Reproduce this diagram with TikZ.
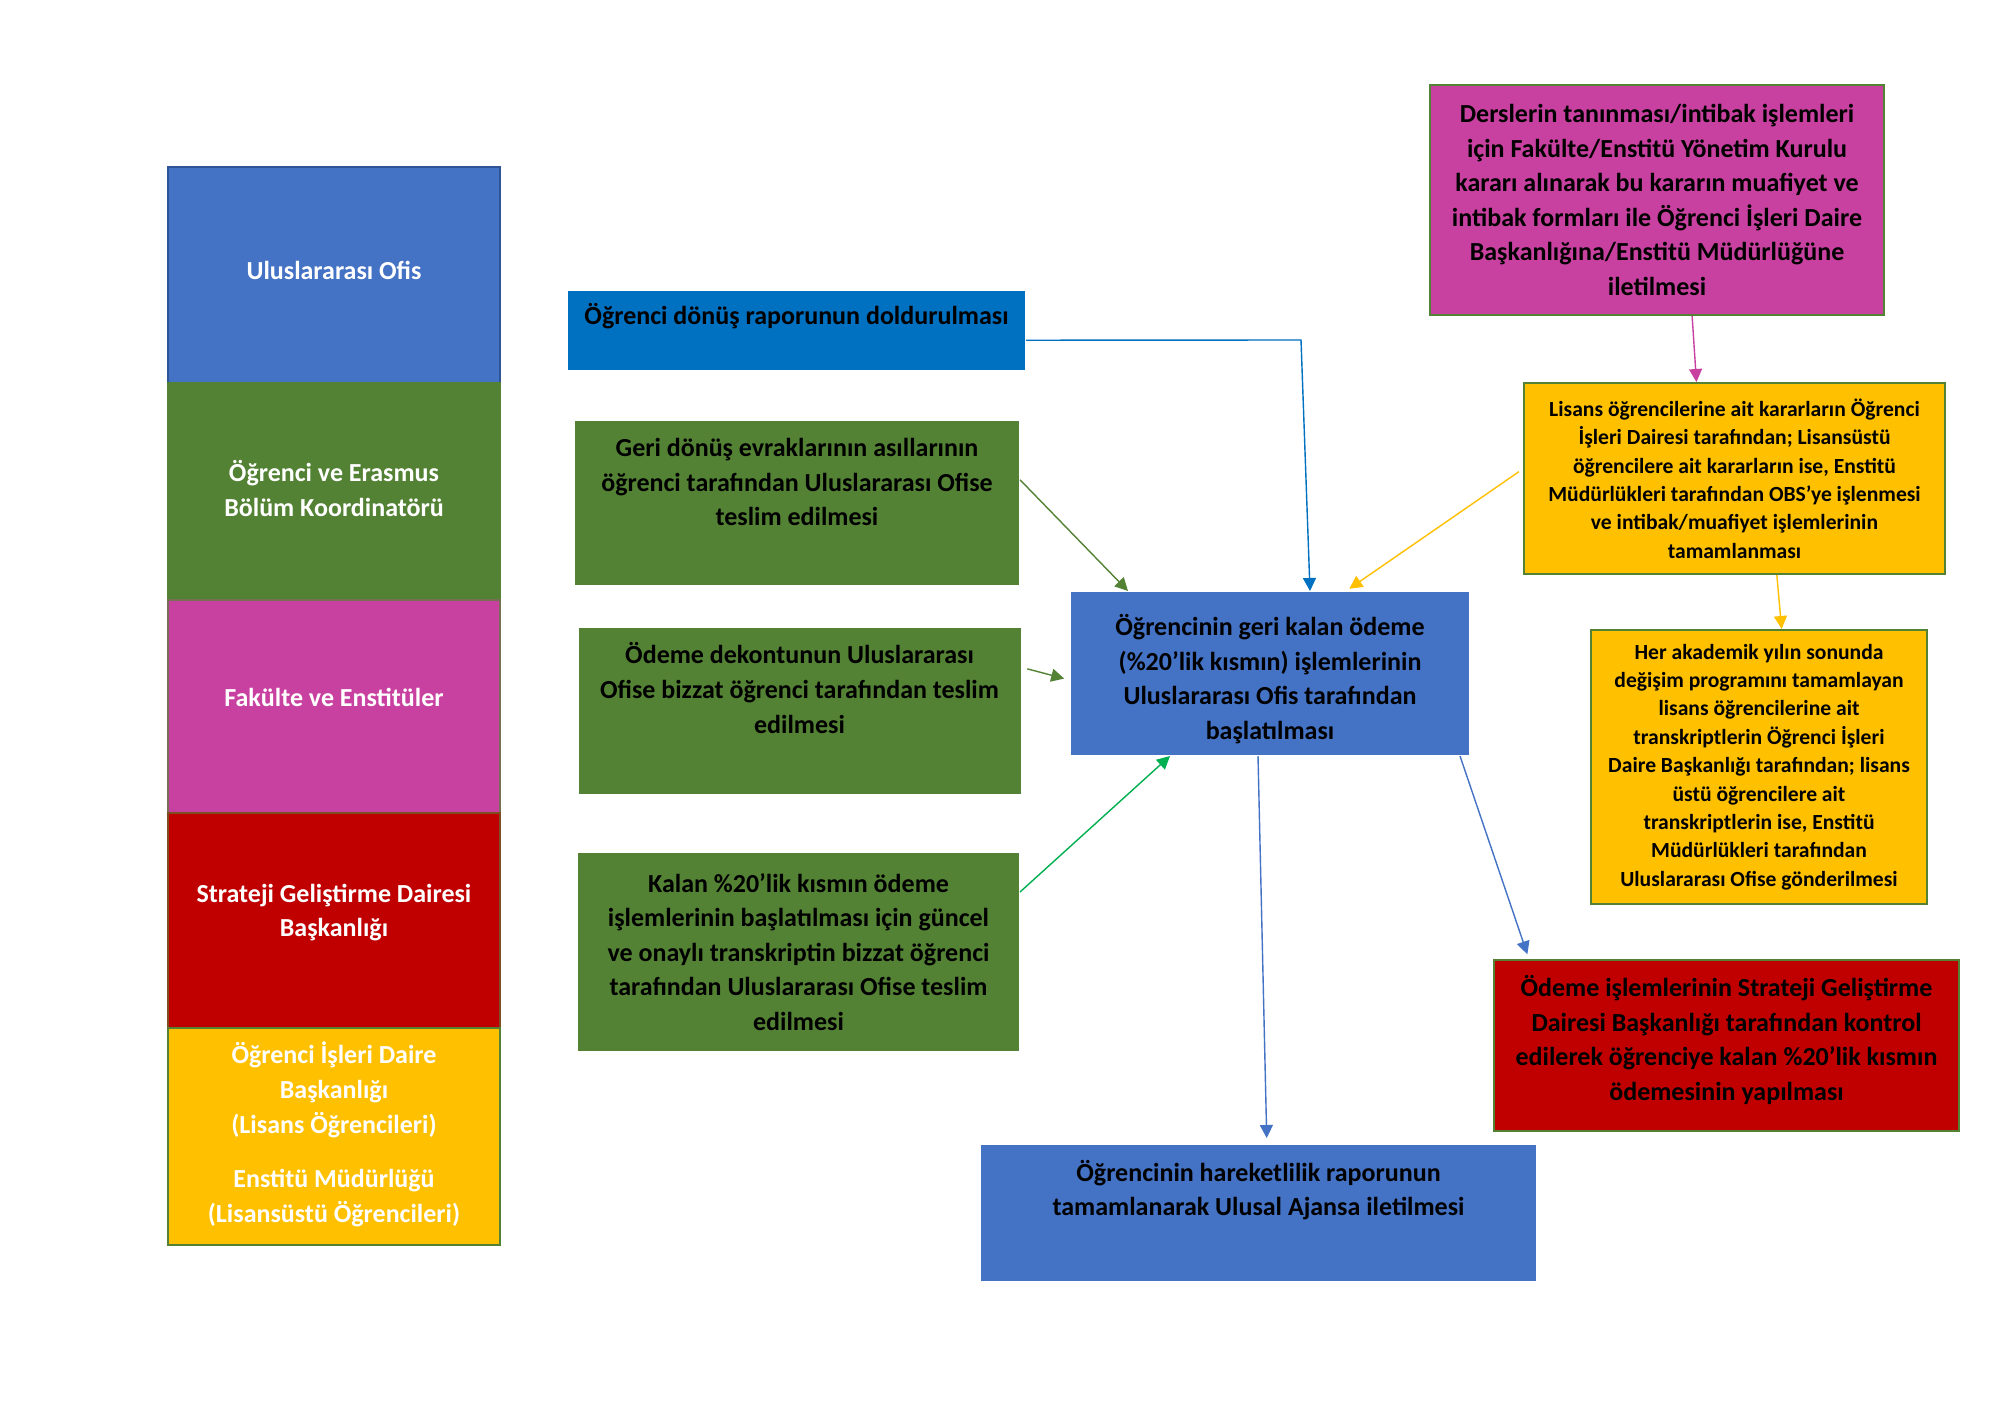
\documentclass[tikz,border=0pt]{standalone}
\usepackage{fontspec}
\setmainfont{Carlito}
\usepackage{tikz}
\usetikzlibrary{arrows.meta, calc}
\definecolor{ofisblue}{RGB}{68,114,196}
\definecolor{raporblue}{RGB}{0,112,192}
\definecolor{koorgreen}{RGB}{84,130,53}
\definecolor{fakmagenta}{RGB}{201,65,160}
\definecolor{sgdred}{RGB}{192,0,0}
\definecolor{oidyellow}{RGB}{255,192,0}
\definecolor{okgreen}{RGB}{0,176,80}
\definecolor{edgeblue}{RGB}{47,85,151}

\tikzset{
  box/.style={rectangle, inner sep=0pt, line width=1pt},
  bigtxt/.style={font=\fontsize{13}{17.3}\selectfont\bfseries, align=center, inner sep=0pt},
  smalltxt/.style={font=\fontsize{10.8}{14.2}\selectfont\bfseries, align=center, inner sep=0pt},
  lanetxt/.style={bigtxt, text=white},
  flow/.style={line width=0.7pt, -{Triangle[length=6.5pt,width=6.5pt]}},
}

\begin{document}
\begin{tikzpicture}[x=0.5pt, y=-0.5pt]
\fill[white] (0,0) rectangle (2000,1414);
\useasboundingbox (0,0) rectangle (2000,1414);

% left column
\node (ofis) [box, fill=ofisblue, draw=edgeblue, minimum width=166pt, minimum height=108pt,
  label={[lanetxt, yshift=2.5pt]center:{Uluslararası Ofis}}] at (334,275) {};
\node (koor) [box, fill=koorgreen, draw=koorgreen, minimum width=166pt, minimum height=108.5pt,
  label={[lanetxt, yshift=1.5pt]center:{Öğrenci ve Erasmus\\Bölüm Koordinatörü}}] at (334,491.5) {};
\node (fak) [box, fill=fakmagenta, draw=koorgreen!70!fakmagenta, minimum width=166pt, minimum height=106.5pt,
  label={[lanetxt, yshift=4.5pt]center:{Fakülte ve Enstitüler}}] at (334,706.5) {};
\node (sgd) [box, fill=sgdred, draw=koorgreen!60!sgdred, minimum width=166pt, minimum height=107.5pt,
  label={[lanetxt, yshift=4pt]center:{Strateji Geliştirme Dairesi\\Başkanlığı}}] at (334,920.5) {};
\node (oid) [box, fill=oidyellow, draw=koorgreen, minimum width=166pt, minimum height=108.5pt,
  label={[lanetxt, yshift=1pt]center:{Öğrenci İşleri Daire\\Başkanlığı\\(Lisans Öğrencileri)\\[10pt]Enstitü Müdürlüğü\\(Lisansüstü Öğrencileri)}}] at (334,1136.5) {};

% steps
\node (rapor) [box, fill=raporblue, minimum width=228.5pt, minimum height=39.5pt,
  label={[bigtxt, yshift=7pt]center:{Öğrenci dönüş raporunun doldurulması}}] at (796.5,330.5) {};
\node (evrak) [box, fill=koorgreen, minimum width=222pt, minimum height=82pt,
  label={[bigtxt, yshift=10.5pt]center:{Geri dönüş evraklarının asıllarının\\öğrenci tarafından Uluslararası Ofise\\teslim edilmesi}}] at (797,503) {};
\node (dekont) [box, fill=koorgreen, minimum width=221pt, minimum height=83pt,
  label={[bigtxt, yshift=11.5pt]center:{Ödeme dekontunun Uluslararası\\Ofise bizzat öğrenci tarafından teslim\\edilmesi}}] at (799.5,711) {};
\node (transkript) [box, fill=koorgreen, minimum width=220.5pt, minimum height=99pt,
  label={[bigtxt]center:{Kalan \%20’lik kısmın ödeme\\işlemlerinin başlatılması için güncel\\ve onaylı transkriptin bizzat öğrenci\\tarafından Uluslararası Ofise teslim\\edilmesi}}] at (798.5,952) {};
\node (odeme) [box, fill=ofisblue, minimum width=199pt, minimum height=81.5pt,
  label={[bigtxt, yshift=-2.7pt]center:{Öğrencinin geri kalan ödeme\\(\%20’lik kısmın) işlemlerinin\\Uluslararası Ofis tarafından\\başlatılması}}] at (1270,673.5) {};
\node (ajans) [box, fill=ofisblue, minimum width=277.5pt, minimum height=68pt,
  label={[bigtxt, yshift=11.5pt]center:{Öğrencinin hareketlilik raporunun\\tamamlanarak Ulusal Ajansa iletilmesi}}] at (1258.5,1213) {};
\node (karar) [box, fill=fakmagenta, draw=koorgreen, minimum width=227pt, minimum height=115pt,
  label={[bigtxt]center:{Derslerin tanınması/intibak işlemleri\\için Fakülte/Enstitü Yönetim Kurulu\\kararı alınarak bu kararın muafiyet ve\\intibak formları ile Öğrenci İşleri Daire\\Başkanlığına/Enstitü Müdürlüğüne\\iletilmesi}}] at (1657,200) {};
\node (obs) [box, fill=oidyellow, draw=koorgreen, minimum width=210.5pt, minimum height=95.5pt,
  label={[smalltxt]center:{Lisans öğrencilerine ait kararların Öğrenci\\İşleri Dairesi tarafından; Lisansüstü\\öğrencilere ait kararların ise, Enstitü\\Müdürlükleri tarafından OBS’ye işlenmesi\\ve intibak/muafiyet işlemlerinin\\tamamlanması}}] at (1734.5,478.5) {};
\node (gonder) [box, fill=oidyellow, draw=koorgreen, minimum width=168pt, minimum height=137pt,
  label={[smalltxt]center:{Her akademik yılın sonunda\\değişim programını tamamlayan\\lisans öğrencilerine ait\\transkriptlerin Öğrenci İşleri\\Daire Başkanlığı tarafından; lisans\\üstü öğrencilere ait\\transkriptlerin ise, Enstitü\\Müdürlükleri tarafından\\Uluslararası Ofise gönderilmesi}}] at (1759,767) {};
\node (kontrol) [box, fill=sgdred, draw=koorgreen, minimum width=232.5pt, minimum height=85.5pt,
  label={[bigtxt, yshift=2.7pt]center:{Ödeme işlemlerinin Strateji Geliştirme\\Dairesi Başkanlığı tarafından kontrol\\edilerek öğrenciye kalan \%20’lik kısmın\\ödemesinin yapılması}}] at (1726.5,1045.5) {};

% connectors
\coordinate (kRapor) at (1301,340);
\draw[flow, raporblue] ($(rapor.north east)!0.62!(rapor.south east)$) -- (kRapor) -- ($(odeme.north west)!0.6!(odeme.north east)$);
\draw[flow, koorgreen] ($(evrak.north east)!0.36!(evrak.south east)$) -- ($(odeme.north west)!0.145!(odeme.north east)$);
\draw[flow, koorgreen, shorten <=3pt, shorten >=3pt] ($(dekont.north east)!0.24!(dekont.south east)$) -- ($(odeme.north west)!0.54!(odeme.south west)$);
\draw[flow, okgreen] ($(transkript.north east)!0.2!(transkript.south east)$) -- ($(odeme.south west)!0.25!(odeme.south east)$);
\draw[flow, oidyellow, shorten <=2.5pt, shorten >=2pt] ($(obs.north west)!0.45!(obs.south west)$) -- ($(odeme.north west)!0.69!(odeme.north east)$);
\draw[flow, fakmagenta] ($(karar.south west)!0.577!(karar.south east)$) -- ($(obs.north west)!0.41!(obs.north east)$);
\draw[flow, oidyellow] ($(obs.south west)!0.6!(obs.south east)$) -- ($(gonder.north west)!0.567!(gonder.north east)$);
\draw[flow, ofisblue, shorten >=3pt] ($(odeme.south west)!0.47!(odeme.south east)$) -- ($(ajans.north west)!0.515!(ajans.north east)$);
\draw[flow, ofisblue, shorten >=2.5pt] ($(odeme.south west)!0.975!(odeme.south east)$) -- ($(kontrol.north west)!0.077!(kontrol.north east)$);
\end{tikzpicture}
\end{document}
